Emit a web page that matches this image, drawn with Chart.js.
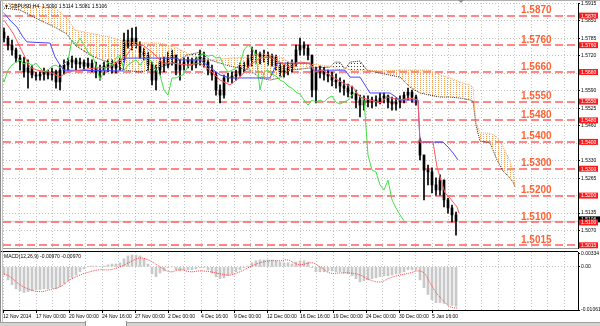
<!DOCTYPE html>
<html><head><meta charset="utf-8">
<script src="https://cdn.jsdelivr.net/npm/chart.js@4.4.1/dist/chart.umd.min.js"></script>
<style>
html,body{margin:0;padding:0;background:#fff;width:600px;height:326px;overflow:hidden;position:relative;}
canvas{position:absolute;left:0;}
#main{top:0;}
#macd{top:251px;}
.fl1{position:absolute;left:0;top:0;width:1px;height:322px;background:#8a8a8a;z-index:5;}
.fl2{position:absolute;left:2px;top:0;width:1px;height:322px;background:#c4c4c4;z-index:5;}
.ft{position:absolute;left:0;top:0;width:600px;height:1px;background:#b0b0b0;z-index:5;}
.fb{position:absolute;left:0;top:322px;width:600px;height:4px;background:#d6d3ce;border-top:1px solid #a0a0a0;z-index:5;}
.tab{position:absolute;left:85px;top:321px;width:40px;height:5px;background:#fff;border-left:1px solid #909090;border-right:1px solid #909090;z-index:6;}
.shift{position:absolute;left:458px;top:0;width:0;height:0;border-left:3px solid transparent;border-right:3px solid transparent;border-top:3px solid #909090;z-index:6;}
</style></head><body>
<canvas id="main" width="600" height="251" style="width:600px;height:251px"></canvas>
<canvas id="macd" width="600" height="75" style="width:600px;height:75px"></canvas>
<div class="fl1"></div><div class="fl2"></div><div class="ft"></div><div class="fb"></div><div class="tab"></div><div class="shift"></div>
<script>
// ---------- texts / labels ----------
const symbolHeader = '\u25BC GBPUSD,H4  1.5090 1.5114 1.5081 1.5106';
const macdHeader = 'MACD(12,26,9) -0.00970 -0.00970';
const dateLabels = ['12 Nov 2014','17 Nov 00:00','20 Nov 00:00','24 Nov 16:00','27 Nov 00:00','2 Dec 00:00','4 Dec 16:00','9 Dec 00:00','12 Dec 00:00','16 Dec 16:00','19 Dec 00:00','24 Dec 00:00','30 Dec 00:00','5 Jan 16:00'];
const priceTicks = [1.5070,1.5135,1.5200,1.5265,1.5330,1.5395,1.5460,1.5525,1.5590,1.5655,1.5720,1.5785,1.5850,1.5915];
const levels = [1.5870,1.5760,1.5660,1.5550,1.5480,1.5400,1.5300,1.5200,1.5100,1.5015];
const lastPrice = 1.5106;
const macdTicks = [-0.01061, 0, 0.00334];

// ---------- price bars (each entry = 2 H4 bars) ----------
const barStep = 2;
const open = [1.5809,1.5786,1.5760,1.5742,1.5712,1.5697,1.5660,1.5675,1.5649,1.5645,
 1.5652,1.5660,1.5649,1.5660,1.5623,1.5667,1.5686,1.5697,1.5705,1.5690,
 1.5697,1.5682,1.5693,1.5675,1.5660,1.5667,1.5682,1.5686,1.5675,1.5690,
 1.5705,1.5779,1.5760,1.5786,1.5760,1.5734,1.5723,1.5686,1.5630,1.5667,
 1.5697,1.5686,1.5712,1.5723,1.5667,1.5686,1.5697,1.5705,1.5686,1.5705,
 1.5712,1.5697,1.5667,1.5649,1.5593,1.5574,1.5638,1.5638,1.5645,1.5652,
 1.5682,1.5686,1.5705,1.5723,1.5727,1.5719,1.5723,1.5712,1.5716,1.5682,
 1.5660,1.5667,1.5675,1.5690,1.5742,1.5760,1.5749,1.5723,1.5593,1.5660,
 1.5667,1.5652,1.5645,1.5630,1.5623,1.5608,1.5600,1.5585,1.5578,1.5556,
 1.5537,1.5556,1.5548,1.5556,1.5548,1.5563,1.5571,1.5548,1.5541,1.5548,
 1.5556,1.5574,1.5585,1.5567,1.5407,1.5351,1.5295,1.5288,1.5240,1.5221,
 1.5258,1.5184,1.5154,1.5128];
const high = [1.5824,1.5794,1.5779,1.5749,1.5723,1.5716,1.5705,1.5686,1.5660,1.5660,
 1.5675,1.5667,1.5675,1.5667,1.5686,1.5705,1.5712,1.5719,1.5712,1.5712,
 1.5705,1.5712,1.5705,1.5697,1.5686,1.5697,1.5705,1.5705,1.5697,1.5712,
 1.5805,1.5816,1.5824,1.5827,1.5772,1.5749,1.5734,1.5697,1.5686,1.5712,
 1.5716,1.5734,1.5742,1.5723,1.5705,1.5712,1.5716,1.5712,1.5716,1.5742,
 1.5734,1.5705,1.5686,1.5660,1.5612,1.5649,1.5656,1.5660,1.5667,1.5693,
 1.5697,1.5723,1.5753,1.5742,1.5734,1.5742,1.5734,1.5727,1.5723,1.5693,
 1.5686,1.5697,1.5705,1.5760,1.5786,1.5772,1.5760,1.5723,1.5678,1.5682,
 1.5678,1.5667,1.5660,1.5652,1.5638,1.5630,1.5615,1.5608,1.5593,1.5574,
 1.5571,1.5571,1.5567,1.5571,1.5582,1.5582,1.5574,1.5567,1.5563,1.5571,
 1.5585,1.5600,1.5593,1.5574,1.5414,1.5351,1.5314,1.5303,1.5266,1.5277,
 1.5258,1.5191,1.5165,1.5139];
const low = [1.5772,1.5742,1.5723,1.5697,1.5667,1.5641,1.5600,1.5638,1.5630,1.5630,
 1.5630,1.5634,1.5630,1.5600,1.5593,1.5652,1.5667,1.5675,1.5667,1.5675,
 1.5667,1.5675,1.5660,1.5638,1.5630,1.5649,1.5660,1.5656,1.5656,1.5667,
 1.5697,1.5749,1.5742,1.5749,1.5712,1.5705,1.5667,1.5612,1.5593,1.5649,
 1.5660,1.5675,1.5686,1.5649,1.5630,1.5667,1.5675,1.5667,1.5675,1.5686,
 1.5678,1.5649,1.5630,1.5574,1.5545,1.5563,1.5623,1.5619,1.5630,1.5645,
 1.5660,1.5675,1.5682,1.5693,1.5690,1.5697,1.5686,1.5682,1.5667,1.5645,
 1.5641,1.5649,1.5660,1.5682,1.5723,1.5723,1.5705,1.5567,1.5545,1.5638,
 1.5630,1.5623,1.5608,1.5600,1.5585,1.5574,1.5567,1.5563,1.5526,1.5493,
 1.5518,1.5530,1.5526,1.5533,1.5541,1.5545,1.5526,1.5518,1.5518,1.5526,
 1.5545,1.5556,1.5548,1.5537,1.5333,1.5184,1.5240,1.5210,1.5202,1.5202,
 1.5158,1.5135,1.5102,1.5053];
const close = [1.5786,1.5760,1.5742,1.5712,1.5697,1.5660,1.5675,1.5649,1.5645,1.5652,
 1.5660,1.5649,1.5660,1.5623,1.5667,1.5686,1.5697,1.5705,1.5690,1.5697,
 1.5682,1.5693,1.5675,1.5660,1.5667,1.5682,1.5686,1.5675,1.5690,1.5705,
 1.5779,1.5760,1.5786,1.5760,1.5734,1.5723,1.5686,1.5630,1.5667,1.5697,
 1.5686,1.5712,1.5723,1.5667,1.5686,1.5697,1.5705,1.5686,1.5705,1.5712,
 1.5697,1.5667,1.5649,1.5593,1.5574,1.5638,1.5638,1.5645,1.5652,1.5682,
 1.5686,1.5705,1.5723,1.5727,1.5719,1.5723,1.5712,1.5716,1.5682,1.5660,
 1.5667,1.5675,1.5690,1.5742,1.5760,1.5749,1.5723,1.5593,1.5660,1.5667,
 1.5652,1.5645,1.5630,1.5623,1.5608,1.5600,1.5585,1.5578,1.5556,1.5537,
 1.5556,1.5548,1.5556,1.5548,1.5563,1.5571,1.5548,1.5541,1.5548,1.5556,
 1.5574,1.5585,1.5567,1.5556,1.5351,1.5295,1.5288,1.5240,1.5221,1.5258,
 1.5184,1.5154,1.5128,1.5106];

// ---------- Ichimoku ----------
const tenkanT = [0,4.5,8,13,16.5,23,28,31.5,38,45.5,53,61.5,64.5,69.5,74.5,79.5,84.5,91.5,98,103,108,113,118,123,128,133,138,143,148,153,155.5,159.5,164.5,169.5,174.5,178,183,188,191.5,198,203,207,208,214.5,216.5,218,220.5,223,224.5,226.5,227.5];
const tenkan = [1.5853,1.5805,1.5753,1.5678,1.5667,1.5660,1.5641,1.5660,1.5667,1.5675,
 1.5678,1.5723,1.5760,1.5760,1.5731,1.5693,1.5693,1.5686,1.5693,1.5667,
 1.5630,1.5612,1.5641,1.5686,1.5712,1.5716,1.5697,1.5678,1.5697,1.5693,
 1.5660,1.5667,1.5641,1.5619,1.5604,1.5567,1.5556,1.5545,1.5567,1.5556,
 1.5563,1.5556,1.5399,1.5399,1.5307,1.5269,1.5210,1.5191,1.5176,1.5158,1.5135];
const kijunT = [0,3,6.5,9.5,11.5,23,25.5,28,30,59.5,60.5,86.5,88,98,103,108,113,133,136.5,153,154.5,170.5,173,178,183,193,198,207,208,219.5,222,224.5,227];
const kijun = [1.5879,1.5853,1.5827,1.5790,1.5772,1.5768,1.5716,1.5686,1.5667,1.5664,1.5712,1.5712,1.5705,1.5705,1.5678,1.5649,1.5638,1.5638,1.5693,1.5693,1.5667,1.5667,1.5641,1.5641,1.5582,1.5582,1.5556,1.5556,1.5399,1.5399,1.5381,1.5359,1.5333];
const spanT = [0,8,18,25.5,31.5,35.5,43,53,60.5,68,78,85.5,91.5,98,103,113,123,128,133,138,143,153,163,165.5,168,170.5,173,178,181.5,188,198,203,208,213,218,223,228,233,234.5,236,238,243,246.5,249.5,252,254.5,255.5];
const spanA = [1.5917,1.5909,1.5905,1.5898,1.5861,1.5816,1.5805,1.5790,1.5772,1.5768,
 1.5768,1.5753,1.5731,1.5705,1.5705,1.5712,1.5716,1.5731,1.5723,1.5716,
 1.5697,1.5690,1.5682,1.5675,1.5667,1.5675,1.5667,1.5667,1.5667,1.5664,
 1.5667,1.5667,1.5667,1.5667,1.5649,1.5638,1.5623,1.5612,1.5604,1.5474,
 1.5433,1.5433,1.5418,1.5381,1.5344,1.5295,1.5232];
const spanB = [1.5898,1.5891,1.5853,1.5827,1.5801,1.5760,1.5723,1.5693,1.5667,1.5660,
 1.5678,1.5697,1.5723,1.5734,1.5705,1.5682,1.5667,1.5638,1.5630,1.5638,
 1.5667,1.5675,1.5678,1.5697,1.5697,1.5671,1.5697,1.5701,1.5667,1.5656,
 1.5641,1.5604,1.5582,1.5574,1.5567,1.5567,1.5563,1.5556,1.5552,1.5463,
 1.5403,1.5396,1.5333,1.5292,1.5273,1.5251,1.5232];
const chikouShift = 26; // H4 bars

// ---------- MACD ----------
const histogram = [-0.0020,-0.0032,-0.0044,-0.0054,-0.0059,-0.0063,-0.0061,-0.0059,-0.0056,-0.0056,
 -0.0054,-0.0054,-0.0051,-0.0054,-0.0049,-0.0041,-0.0034,-0.0027,-0.0020,-0.0012,
 -0.0005,0.0001,0.0002,0.0002,0.0001,0.0002,0.0005,0.0007,0.0007,0.0010,
 0.0020,0.0027,0.0029,0.0029,0.0027,0.0020,0.0007,-0.0017,-0.0024,-0.0015,
 -0.0010,-0.0002,0.0000,-0.0007,-0.0010,-0.0007,-0.0007,-0.0007,-0.0005,-0.0002,
 -0.0002,-0.0007,-0.0015,-0.0024,-0.0029,-0.0027,-0.0022,-0.0017,-0.0012,-0.0007,
 -0.0002,0.0002,0.0010,0.0015,0.0017,0.0017,0.0017,0.0017,0.0015,0.0012,
 0.0010,0.0010,0.0007,0.0012,0.0015,0.0015,0.0012,-0.0002,-0.0012,-0.0012,
 -0.0012,-0.0010,-0.0010,-0.0012,-0.0012,-0.0015,-0.0017,-0.0022,-0.0029,-0.0037,
 -0.0034,-0.0032,-0.0029,-0.0027,-0.0024,-0.0022,-0.0022,-0.0020,-0.0017,-0.0015,
 -0.0012,-0.0007,-0.0007,-0.0007,-0.0032,-0.0051,-0.0068,-0.0081,-0.0088,-0.0088,
 -0.0090,-0.0093,-0.0095,-0.0097];
const signalT = [0,3,8,13,18,23,28,33,38,43,48,53,58,63,68,73,78,83,88,93,98,103,108,113,118,123,128,133,138,142,145,148,154,158,163,168,173,178,183,188,193,198,203,207,210,213,216,220,223,227];
const signal = [-0.0017,-0.0024,-0.0044,-0.0056,-0.0061,-0.0056,-0.0049,-0.0032,-0.0020,-0.0012,
 -0.0007,-0.0007,0.0000,0.0012,0.0022,0.0015,0.0000,-0.0012,-0.0007,-0.0012,
 -0.0010,-0.0012,-0.0017,-0.0020,-0.0012,0.0000,0.0010,0.0015,0.0015,0.0017,
 0.0010,0.0005,0.0010,0.0000,-0.0015,-0.0015,-0.0015,-0.0020,-0.0032,-0.0037,
 -0.0027,-0.0020,-0.0015,-0.0010,-0.0015,-0.0039,-0.0063,-0.0085,-0.0098,-0.0102];

// ---------- axis ranges / style constants ----------
const xMin = -0.5, xMax = 287, gridStep = 8.25;
const priceMin = 1.5005, priceMax = 1.5917;
const macdMin = -0.01061, macdMax = 0.00366;
const levelLabelT = 258.5;
const FONT = '"Liberation Sans", Arial, sans-serif';

// ---------- build ----------
const pts = (ts, vs) => ts.map((t, i) => ({x: t, y: vs[i]}));
const wickData = close.map((c, k) => ({x: k * barStep, y: [low[k], high[k]]}));
const bodyData = close.map((c, k) => ({x: k * barStep, y: [Math.min(open[k], c), Math.max(open[k], c)]}));
const chikouData = close.map((c, k) => ({x: k * barStep - chikouShift, y: c}));
const histData = histogram.map((v, k) => ({x: k * barStep, y: v}));

const mainCanvas = document.getElementById('main');
const mctx = mainCanvas.getContext('2d');
function dotPattern(color, w, h) {
  const c = document.createElement('canvas'); c.width = w; c.height = h;
  const g = c.getContext('2d'); g.fillStyle = color; g.fillRect(0, 0, 1, 1);
  return mctx.createPattern(c, 'repeat');
}
const orangeHatch = dotPattern('#f3a45c', 3, 2);
const darkHatch = dotPattern('#404040', 3, 3);

function xTicks(s) { const t = []; for (let v = xMin; v <= xMax; v += gridStep) t.push({value: v}); s.ticks = t; }

const mainDecor = {
  id: 'mainDecor',
  beforeDatasetsDraw(chart) {
    const {ctx, chartArea: a, scales: {y}} = chart;
    ctx.save();
    ctx.beginPath(); ctx.rect(a.left, a.top, a.right - a.left, a.bottom - a.top); ctx.clip();
    const py = Math.round(y.getPixelForValue(lastPrice)) + 0.5;
    ctx.strokeStyle = '#d4d4d4'; ctx.lineWidth = 1.5;
    ctx.beginPath(); ctx.moveTo(a.left, py); ctx.lineTo(a.right, py); ctx.stroke();
    ctx.strokeStyle = 'rgba(255,105,105,0.8)'; ctx.lineWidth = 2; ctx.setLineDash([8, 4]);
    levels.forEach(v => {
      const yy = Math.round(y.getPixelForValue(v));
      ctx.beginPath(); ctx.moveTo(a.left, yy); ctx.lineTo(a.right, yy); ctx.stroke();
    });
    ctx.restore();
  },
  afterDatasetsDraw(chart) {
    const {ctx, scales: {x, y}} = chart;
    ctx.save();
    ctx.font = 'bold 10px ' + FONT;
    ctx.fillStyle = '#ff6233';
    ctx.textBaseline = 'alphabetic';
    const lx = x.getPixelForValue(levelLabelT);
    levels.forEach(v => ctx.fillText(v.toFixed(4), lx, y.getPixelForValue(v) - 2.5));
    ctx.font = '5px ' + FONT; ctx.fillStyle = '#000'; ctx.textBaseline = 'middle';
    ctx.fillText(symbolHeader, 4, 6.5);
    ctx.restore();
  },
  afterDraw(chart) {
    const {ctx, chartArea: a, scales: {y}} = chart;
    ctx.save();
    ctx.font = '5px ' + FONT; ctx.textBaseline = 'middle';
    const bx = a.right + 1;
    const py = y.getPixelForValue(lastPrice) - 1.5;
    ctx.fillStyle = '#000'; ctx.fillRect(bx, py - 3, 21, 6);
    ctx.fillStyle = '#fff'; ctx.fillText(lastPrice.toFixed(4), bx + 2, py + 0.5);
    levels.forEach(v => {
      const yy = y.getPixelForValue(v);
      ctx.fillStyle = '#ff1a1a'; ctx.fillRect(bx, yy - 3, 19, 6);
      ctx.fillStyle = '#fff'; ctx.fillText(v.toFixed(4), bx + 2, yy + 0.5);
    });
    ctx.restore();
  }
};

new Chart(mainCanvas, {
  type: 'line',
  data: {
    datasets: [
      {label: 'Tenkan', data: pts(tenkanT, tenkan), borderColor: '#ff5a5a', borderWidth: 1, pointRadius: 0, fill: false},
      {label: 'Kijun', data: pts(kijunT, kijun), borderColor: '#4646ff', borderWidth: 1, pointRadius: 0, fill: false},
      {label: 'Chikou', data: chikouData, borderColor: '#44e044', borderWidth: 1, pointRadius: 0, fill: false},
      {label: 'SpanA', data: pts(spanT, spanA), borderColor: '#f4a460', borderWidth: 1, borderDash: [1, 1], pointRadius: 0,
        fill: {target: '+1', above: orangeHatch, below: darkHatch}},
      {label: 'SpanB', data: pts(spanT, spanB), borderColor: '#222', borderWidth: 1, borderDash: [1, 1], pointRadius: 0, fill: false},
      {type: 'bar', label: 'Body', data: bodyData, backgroundColor: '#000', barThickness: 2, grouped: false, borderWidth: 0},
      {type: 'bar', label: 'Wick', data: wickData, backgroundColor: '#000', barThickness: 1, grouped: false, borderWidth: 0}
    ]
  },
  options: {
    responsive: false, animation: false, devicePixelRatio: 1, events: [],
    layout: {padding: {left: 3, top: 3, right: 0, bottom: 3}, autoPadding: false},
    plugins: {legend: {display: false}, tooltip: {enabled: false}},
    elements: {line: {tension: 0}, point: {radius: 0}},
    scales: {
      x: {type: 'linear', min: xMin, max: xMax, offset: false,
        afterBuildTicks: xTicks,
        afterFit: s => { s.height = 0; s.paddingLeft = 0; s.paddingRight = 0; },
        ticks: {display: false},
        grid: {color: '#c4c4c4', offset: false, drawTicks: false},
        border: {color: '#9a9a9a', dash: [1, 2]}},
      y: {type: 'linear', position: 'right', min: priceMin, max: priceMax,
        afterBuildTicks: s => { s.ticks = priceTicks.map(v => ({value: v})); },
        afterFit: s => { s.width = 22; s.paddingTop = 0; s.paddingBottom = 0; },
        ticks: {font: {family: FONT, size: 5}, color: '#000', padding: 1, autoSkip: false, callback: v => v.toFixed(4)},
        grid: {color: '#c4c4c4', drawTicks: true, tickLength: 2, tickColor: '#000', tickBorderDash: []},
        border: {color: '#000', dash: [1, 2]}}
    }
  },
  plugins: [mainDecor]
});

const macdDecor = {
  id: 'macdDecor',
  afterDraw(chart) {
    const {ctx, chartArea: a} = chart;
    ctx.save();
    ctx.strokeStyle = '#000'; ctx.lineWidth = 1;
    ctx.beginPath(); ctx.moveTo(0, a.top - 0.5); ctx.lineTo(a.right, a.top - 0.5); ctx.stroke();
    ctx.font = '5px ' + FONT; ctx.fillStyle = '#000'; ctx.textBaseline = 'middle';
    ctx.fillText(macdHeader, 4, a.top + 4.5);
    ctx.restore();
  }
};

new Chart(document.getElementById('macd'), {
  type: 'line',
  data: {
    datasets: [
      {label: 'Signal', data: pts(signalT, signal), borderColor: '#ff4040', borderWidth: 1, borderDash: [1, 1], pointRadius: 0, tension: 0.4, fill: false},
      {type: 'bar', label: 'MACD', data: histData, backgroundColor: '#c8c8c8', barThickness: 2, grouped: false, borderWidth: 0}
    ]
  },
  options: {
    responsive: false, animation: false, devicePixelRatio: 1, events: [],
    layout: {padding: {left: 3, top: 1, right: 0, bottom: 0}, autoPadding: false},
    plugins: {legend: {display: false}, tooltip: {enabled: false}},
    scales: {
      x: {type: 'linear', min: xMin, max: xMax, offset: false,
        afterBuildTicks: xTicks,
        afterFit: s => { s.height = 16; s.paddingLeft = 0; s.paddingRight = 0; },
        ticks: {font: {family: FONT, size: 5}, color: '#000', autoSkip: false, maxRotation: 0, minRotation: 0, align: 'start', padding: 1,
          callback: (v, i) => (i % 2 === 0 && dateLabels[i / 2]) ? dateLabels[i / 2] : ''},
        grid: {color: '#c4c4c4', offset: false, drawTicks: true, tickLength: 3, tickBorderDash: [],
          tickColor: c => (c.tick && c.tick.label) ? '#000' : 'rgba(0,0,0,0)'},
        border: {color: '#000', dash: [1, 2]}},
      y: {type: 'linear', position: 'right', min: macdMin, max: macdMax,
        afterBuildTicks: s => { s.ticks = macdTicks.map(v => ({value: v})); },
        afterFit: s => { s.width = 22; s.paddingTop = 0; s.paddingBottom = 0; },
        ticks: {font: {family: FONT, size: 5}, color: '#000', padding: 1, autoSkip: false, callback: v => v === 0 ? '0.00' : v.toFixed(5)},
        grid: {color: c => (c.tick && c.tick.value === 0) ? '#c4c4c4' : 'rgba(0,0,0,0)', drawTicks: true, tickLength: 2, tickColor: '#000', tickBorderDash: []},
        border: {color: '#000', dash: [1, 2]}}
    }
  },
  plugins: [macdDecor]
});
</script>
</body></html>
